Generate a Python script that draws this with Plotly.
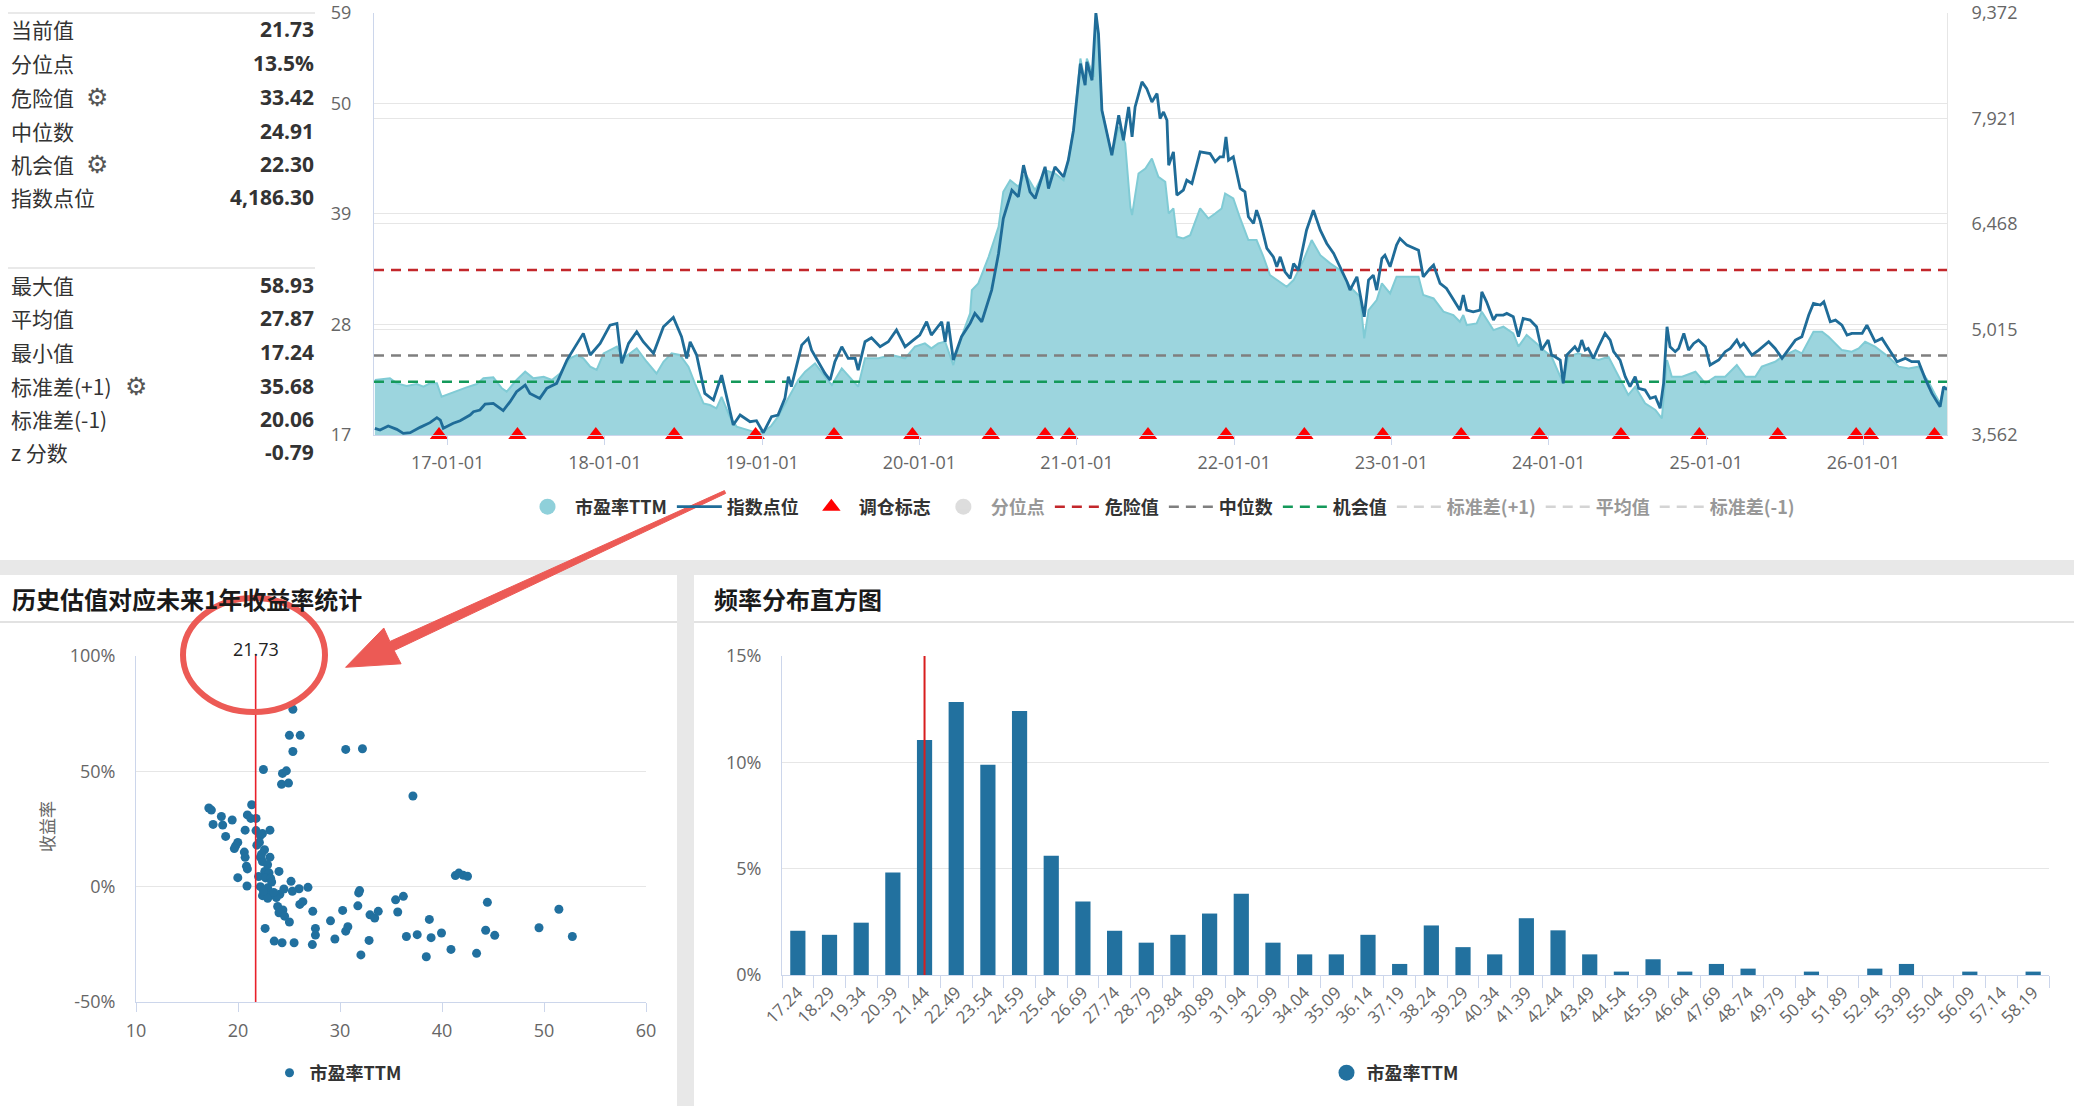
import plotly.graph_objects as go
import pandas as pd

W, H = 2074, 1106

# ---------------- stats panel ----------------
stat_labels_1 = ["当前值", "分位点", "危险值", "中位数", "机会值", "指数点位"]
stat_values_1 = ["21.73", "13.5%", "33.42", "24.91", "22.30", "4,186.30"]
stat_labels_2 = ["最大值", "平均值", "最小值", "标准差(+1)", "标准差(-1)", "z 分数"]
stat_values_2 = ["58.93", "27.87", "17.24", "35.68", "20.06", "-0.79"]

current_pe = 21.73
danger_val = 33.42
median_val = 24.91
chance_val = 22.30
std_plus_val = 35.68
mean_val = 27.87
std_minus_val = 20.06

# ---------------- time series (decimal years) ----------------
pe_t = [2016.540, 2016.636, 2016.678, 2016.742, 2016.805, 2016.848, 2016.890, 2016.932, 2016.964, 2017.017,
        2017.060, 2017.123, 2017.187, 2017.229, 2017.293, 2017.346, 2017.377, 2017.441, 2017.494, 2017.547,
        2017.611, 2017.664, 2017.716, 2017.780, 2017.822, 2017.865, 2017.907, 2017.950, 2017.992, 2018.034,
        2018.077, 2018.119, 2018.161, 2018.204, 2018.267, 2018.331, 2018.373, 2018.426, 2018.479, 2018.532,
        2018.575, 2018.628, 2018.670, 2018.712, 2018.744, 2018.797, 2018.840, 2018.903, 2018.967, 2019.009,
        2019.060, 2019.104, 2019.168, 2019.232, 2019.274, 2019.338, 2019.401, 2019.444, 2019.507, 2019.571,
        2019.613, 2019.655, 2019.740, 2019.825, 2019.910, 2019.973, 2020.037, 2020.079, 2020.122, 2020.164,
        2020.217, 2020.270, 2020.323, 2020.334, 2020.376, 2020.440, 2020.503, 2020.535, 2020.577, 2020.630,
        2020.673, 2020.736, 2020.800, 2020.863, 2020.916, 2020.948, 2020.980, 2021.022, 2021.054, 2021.065,
        2021.107, 2021.122, 2021.139, 2021.160, 2021.224, 2021.266, 2021.309, 2021.340, 2021.351, 2021.393,
        2021.436, 2021.478, 2021.520, 2021.563, 2021.584, 2021.616, 2021.637, 2021.679, 2021.722, 2021.785,
        2021.838, 2021.880, 2021.923, 2021.944, 2021.997, 2022.039, 2022.092, 2022.145, 2022.188, 2022.230,
        2022.294, 2022.336, 2022.379, 2022.442, 2022.495, 2022.548, 2022.612, 2022.675, 2022.739, 2022.802,
        2022.828, 2022.855, 2022.908, 2022.940, 2022.993, 2023.035, 2023.099, 2023.173, 2023.205, 2023.269,
        2023.332, 2023.396, 2023.438, 2023.460, 2023.481, 2023.544, 2023.576, 2023.629, 2023.650, 2023.714,
        2023.777, 2023.809, 2023.862, 2023.925, 2023.968, 2024.021, 2024.095, 2024.127, 2024.190, 2024.254,
        2024.318, 2024.381, 2024.455, 2024.508, 2024.551, 2024.614, 2024.678, 2024.720, 2024.752, 2024.784,
        2024.847, 2024.932, 2024.996, 2025.059, 2025.123, 2025.197, 2025.250, 2025.313, 2025.356, 2025.441,
        2025.483, 2025.568, 2025.610, 2025.653, 2025.684, 2025.737, 2025.780, 2025.864, 2025.928, 2025.970,
        2026.013, 2026.076, 2026.161, 2026.225, 2026.288, 2026.352, 2026.415, 2026.458, 2026.490, 2026.511,
        2026.532]
pe_v = [22.47, 22.64, 22.14, 21.87, 22.07, 21.81, 22.14, 22.14, 20.81, 21.14,
        21.31, 21.74, 22.07, 22.64, 22.74, 21.64, 21.31, 22.47, 23.30, 22.64,
        22.80, 22.47, 23.13, 24.63, 24.96, 24.63, 23.80, 23.47, 25.12, 25.45,
        25.79, 24.63, 25.12, 25.62, 24.29, 23.13, 24.29, 25.12, 24.96, 23.80,
        22.14, 20.15, 19.98, 19.65, 20.80, 18.82, 17.83, 17.50, 17.24, 17.33,
        17.90, 18.82, 20.65, 22.47, 23.30, 24.13, 22.80, 21.97, 23.63, 22.47,
        21.81, 24.63, 24.63, 24.96, 24.63, 25.79, 26.12, 25.62, 26.12, 26.28,
        23.96, 26.78, 29.10, 31.42, 32.09, 34.74, 37.72, 41.20, 42.36, 41.70,
        43.03, 41.37, 43.36, 43.03, 42.36, 44.35, 47.34, 54.47, 52.15, 54.47,
        52.64, 58.93, 56.62, 49.33, 44.85, 47.67, 46.01, 39.71, 38.88, 43.03,
        43.53, 44.52, 42.70, 42.20, 39.05, 39.55, 36.73, 36.56, 36.89, 39.55,
        38.55, 39.05, 39.55, 41.04, 40.54, 38.55, 36.40, 36.40, 34.74, 32.92,
        32.25, 31.75, 32.42, 34.41, 36.40, 34.90, 34.08, 33.41, 31.75, 30.76,
        26.62, 29.43, 30.43, 32.09, 31.09, 32.75, 32.75, 32.75, 30.93, 30.59,
        29.27, 28.94, 28.27, 28.94, 27.94, 28.11, 29.27, 27.94, 27.44, 27.78,
        27.11, 25.79, 26.95, 26.12, 25.45, 24.79, 22.14, 24.79, 25.12, 24.79,
        24.46, 24.79, 22.47, 20.98, 21.81, 20.15, 19.49, 18.66, 24.46, 22.80,
        22.80, 23.30, 22.14, 22.80, 22.80, 23.96, 22.80, 22.80, 23.80, 24.29,
        24.79, 25.45, 25.12, 26.45, 27.28, 27.28, 26.78, 25.45, 25.29, 25.62,
        26.28, 25.79, 24.79, 23.80, 23.63, 23.80, 22.31, 20.98, 20.15, 21.64,
        21.73]

idx_t = [2016.540, 2016.572, 2016.625, 2016.678, 2016.721, 2016.763, 2016.826, 2016.890, 2016.932, 2016.954,
         2016.975, 2017.038, 2017.081, 2017.144, 2017.165, 2017.208, 2017.240, 2017.293, 2017.356, 2017.399,
         2017.441, 2017.494, 2017.526, 2017.589, 2017.632, 2017.695, 2017.759, 2017.822, 2017.865, 2017.907,
         2017.971, 2018.034, 2018.077, 2018.109, 2018.151, 2018.204, 2018.246, 2018.310, 2018.373, 2018.437,
         2018.490, 2018.522, 2018.543, 2018.585, 2018.617, 2018.638, 2018.691, 2018.744, 2018.818, 2018.861,
         2018.924, 2018.967, 2019.009, 2019.062, 2019.104, 2019.147, 2019.168, 2019.189, 2019.253, 2019.295,
         2019.316, 2019.359, 2019.401, 2019.433, 2019.465, 2019.507, 2019.549, 2019.592, 2019.613, 2019.655,
         2019.698, 2019.751, 2019.804, 2019.857, 2019.910, 2019.963, 2020.005, 2020.047, 2020.079, 2020.143,
         2020.164, 2020.185, 2020.217, 2020.270, 2020.323, 2020.355, 2020.397, 2020.461, 2020.503, 2020.535,
         2020.588, 2020.630, 2020.662, 2020.704, 2020.736, 2020.800, 2020.821, 2020.863, 2020.916, 2020.948,
         2020.980, 2021.022, 2021.054, 2021.065, 2021.096, 2021.122, 2021.139, 2021.160, 2021.224, 2021.266,
         2021.298, 2021.329, 2021.351, 2021.372, 2021.414, 2021.446, 2021.478, 2021.510, 2021.531, 2021.552,
         2021.573, 2021.584, 2021.616, 2021.637, 2021.679, 2021.700, 2021.732, 2021.785, 2021.849, 2021.880,
         2021.912, 2021.933, 2021.948, 2021.965, 2021.997, 2022.039, 2022.071, 2022.092, 2022.124, 2022.145,
         2022.167, 2022.209, 2022.251, 2022.272, 2022.294, 2022.325, 2022.357, 2022.379, 2022.410, 2022.463,
         2022.506, 2022.548, 2022.590, 2022.633, 2022.675, 2022.718, 2022.739, 2022.781, 2022.828, 2022.855,
         2022.887, 2022.908, 2022.940, 2022.961, 2022.993, 2023.035, 2023.057, 2023.099, 2023.173, 2023.205,
         2023.247, 2023.269, 2023.311, 2023.353, 2023.385, 2023.438, 2023.460, 2023.481, 2023.523, 2023.565,
         2023.576, 2023.608, 2023.650, 2023.671, 2023.714, 2023.735, 2023.777, 2023.809, 2023.841, 2023.883,
         2023.925, 2023.957, 2023.999, 2024.021, 2024.042, 2024.074, 2024.095, 2024.116, 2024.169, 2024.190,
         2024.212, 2024.233, 2024.254, 2024.286, 2024.318, 2024.360, 2024.392, 2024.413, 2024.455, 2024.487,
         2024.519, 2024.551, 2024.572, 2024.614, 2024.646, 2024.678, 2024.710, 2024.731, 2024.752, 2024.773,
         2024.805, 2024.826, 2024.858, 2024.890, 2024.921, 2024.953, 2024.996, 2025.027, 2025.080, 2025.123,
         2025.155, 2025.197, 2025.218, 2025.239, 2025.292, 2025.335, 2025.398, 2025.441, 2025.483, 2025.525,
         2025.568, 2025.610, 2025.653, 2025.684, 2025.727, 2025.748, 2025.790, 2025.822, 2025.864, 2025.896,
         2025.928, 2025.992, 2026.023, 2026.076, 2026.119, 2026.161, 2026.214, 2026.267, 2026.309, 2026.352,
         2026.394, 2026.437, 2026.490, 2026.511, 2026.532]
idx_v = [3654, 3631, 3686, 3640, 3585, 3594, 3667, 3732, 3800, 3768,
         3654, 3723, 3759, 3837, 3883, 3906, 3988, 3998, 3897, 4021,
         4158, 4250, 4135, 4066, 4204, 4273, 4594, 4823, 4961, 4663,
         4823, 5075, 5098, 4548, 4823, 4984, 4846, 4686, 5052, 5181,
         4915, 4617, 4846, 4663, 4342, 4135, 4044, 4387, 3700, 3837,
         3745, 3759, 3594, 3814, 3837, 4066, 4365, 4227, 4800, 4892,
         4731, 4571, 4410, 4319, 4571, 4777, 4617, 4617, 4456, 4846,
         4901, 4777, 4846, 5007, 4777, 4869, 4938, 5121, 4938, 5121,
         4846, 5121, 4594, 4915, 5098, 5236, 5121, 5557, 6061, 6543,
         6933, 6841, 7277, 6910, 6818, 7254, 6956, 7254, 7116, 7345,
         7758, 8675, 8377, 8698, 8446, 9372, 9088, 8033, 7414, 7965,
         7621, 8079, 7667, 8079, 8423, 8331, 8148, 8263, 7919, 8010,
         7896, 7277, 7460, 6864, 6933, 7070, 7024, 7460, 7437, 7323,
         7391, 7391, 7667, 7345, 7391, 6956, 6910, 6566, 6474, 6658,
         6520, 6130, 6015, 5878, 6015, 5809, 5717, 5924, 5832, 6382,
         6658, 6382, 6199, 6061, 5878, 5672, 5557, 5740, 5190, 5694,
         5763, 5557, 5993, 6038, 5878, 6176, 6268, 6176, 6107, 5740,
         5855, 5901, 5649, 5580, 5465, 5282, 5488, 5282, 5259, 5282,
         5534, 5396, 5144, 5213, 5213, 5236, 5190, 4915, 5167, 5144,
         5052, 4731, 4869, 4663, 4640, 4594, 4273, 4663, 4777, 4709,
         4869, 4731, 4754, 4617, 4777, 4961, 4869, 4709, 4594, 4365,
         4227, 4365, 4204, 4181, 4066, 4089, 3929, 4273, 5052, 4777,
         4709, 4754, 4961, 4731, 4823, 4869, 4777, 4525, 4594, 4709,
         4754, 4869, 4777, 4823, 4663, 4731, 4846, 4754, 4617, 4731,
         4869, 4915, 5213, 5374, 5351, 5396, 5121, 5144, 5075, 4938,
         4961, 4961, 5075, 4846, 4892, 4754, 4571, 4617, 4571, 4571,
         4342, 4135, 3952, 4227, 4186.30]

rebalance_dates = ["2016-12-12", "2017-06-12", "2017-12-11", "2018-06-11", "2018-12-17", "2019-06-17",
                   "2019-12-16", "2020-06-15", "2020-10-19", "2020-12-14", "2021-06-15", "2021-12-13",
                   "2022-06-13", "2022-12-12", "2023-06-12", "2023-12-11", "2024-06-17", "2024-12-16",
                   "2025-06-16", "2025-12-15", "2026-01-16", "2026-06-15"]

pe_axis_ticks = [17, 28, 39, 50, 59]
idx_axis_ticks = [3562, 5015, 6468, 7921, 9372]
x_range = ["2016-07-14", "2026-07-14"]

# ---------------- scatter: PE vs next-1y return ----------------
scatter_pe = [25.38, 25.04, 26.10, 25.38, 30.56, 32.20, 22.49, 24.36, 24.74, 24.27,
              24.95, 37.15, 17.14, 17.39, 21.34, 18.37, 19.43, 20.92, 21.26, 21.77,
              17.56, 18.50, 20.70, 21.77, 23.13, 18.79, 22.19, 22.40, 19.98, 19.77,
              19.64, 20.62, 21.85, 22.10, 20.70, 22.19, 23.13, 22.40, 20.83, 20.92,
              24.02, 22.62, 23.04, 19.98, 22.02, 22.70, 23.20, 25.20, 20.88, 22.19,
              22.91, 25.99, 26.86, 25.33, 22.40, 23.13, 22.91, 24.10, 23.76, 26.06,
              26.36, 23.89, 24.40, 24.02, 24.57, 27.33, 25.04, 22.66, 23.55, 24.32,
              25.50, 27.29, 27.59, 27.59, 29.07, 29.50, 30.26, 30.56, 30.77, 31.83,
              31.92, 31.75, 32.05, 32.85, 32.94, 33.40, 33.75, 35.45, 36.21, 35.66,
              36.51, 37.57, 38.46, 38.76, 38.93, 39.95, 40.88, 41.31, 41.65, 42.07,
              42.50, 43.39, 44.28, 44.45, 45.17, 49.51, 51.46, 52.78, 22.60, 22.30,
              22.90, 23.30, 22.50, 23.50, 24.50]
scatter_ret = [76.9, 65.6, 65.6, 58.6, 59.5, 59.8, 50.8, 49.1, 50.2, 44.4,
               44.9, 39.3, 34.1, 33.2, 35.5, 30.4, 28.9, 31.1, 29.6, 29.6,
               27.0, 26.7, 24.5, 24.3, 24.5, 21.8, 22.2, 23.0, 19.2, 17.7,
               16.5, 15.0, 18.0, 19.2, 12.7, 12.8, 12.8, 10.9, 8.9, 7.7,
               6.6, 6.6, 6.0, 3.9, 4.4, 3.8, 3.6, 2.3, 0.3, 0.0,
               -0.5, -0.9, -0.3, -2.0, -3.9, -3.8, -5.0, -3.3, -4.7, -7.7,
               -6.5, -8.6, -10.1, -11.3, -12.8, -10.7, -15.3, -18.1, -23.6, -24.3,
               -24.3, -25.1, -18.1, -21.0, -14.8, -22.7, -10.3, -19.3, -17.4, -2.7,
               -1.7, -8.3, -29.6, -23.3, -12.2, -13.6, -10.7, -5.7, -4.2, -11.0,
               -21.6, -20.8, -30.4, -14.2, -22.1, -20.1, -27.2, 4.8, 5.9, 5.0,
               4.5, -28.9, -18.9, -6.8, -21.1, -17.8, -9.8, -21.6, 16.0, 14.0,
               9.5, 2.0, -2.0, -2.5, -1.0]
ret_axis_ticks = [-50, 0, 50, 100]

# ---------------- histogram ----------------
bin_labels = ["17.24", "18.29", "19.34", "20.39", "21.44", "22.49", "23.54", "24.59", "25.64", "26.69",
              "27.74", "28.79", "29.84", "30.89", "31.94", "32.99", "34.04", "35.09", "36.14", "37.19",
              "38.24", "39.29", "40.34", "41.39", "42.44", "43.49", "44.54", "45.59", "46.64", "47.69",
              "48.74", "49.79", "50.84", "51.89", "52.94", "53.99", "55.04", "56.09", "57.14", "58.19"]
bin_freq = [2.08, 1.89, 2.46, 4.82, 11.05, 12.84, 9.89, 12.41, 5.61, 3.46,
            2.08, 1.52, 1.89, 2.89, 3.82, 1.52, 0.97, 0.97, 1.89, 0.52,
            2.33, 1.31, 0.97, 2.67, 2.10, 0.97, 0.16, 0.74, 0.16, 0.52,
            0.30, 0.0, 0.16, 0.0, 0.30, 0.52, 0.0, 0.16, 0.0, 0.16]
bin_width = 1.05
freq_axis_ticks = [0, 5, 10, 15]

assert len(pe_t) == len(pe_v)
assert len(idx_t) == len(idx_v)
assert len(scatter_pe) == len(scatter_ret)
assert len(bin_labels) == len(bin_freq)


def yr2dt(arr):
    out = []
    for t in arr:
        y = int(t)
        s = pd.Timestamp(year=y, month=1, day=1)
        e = pd.Timestamp(year=y + 1, month=1, day=1)
        out.append((s + (e - s) * (t - y)).normalize())
    return out


def px(x):
    return x / W


def py(y):
    return 1 - y / H


CJK = "Noto Sans CJK SC"
FONT = "Open Sans, Noto Sans CJK SC, sans-serif"
C_AREA_FILL = "#9cd5de"
C_AREA_LINE = "#80cbd5"
C_IDX = "#1f6c98"
C_DOT = "#21709f"
AX_LINE = "#ccd6eb"
GRID = "#e6e6e6"
TICKF = dict(size=18, color="#666666")

fig = go.Figure()

# ---- top chart ----
pe_dates = yr2dt(pe_t)
idx_dates = yr2dt(idx_t)

fig.add_trace(go.Scatter(x=pe_dates, y=pe_v, mode="lines", line=dict(color=C_AREA_LINE, width=2),
                         fill="tozeroy", fillcolor=C_AREA_FILL, showlegend=False, legendgroup="pe",
                         xaxis="x", yaxis="y", hoverinfo="skip", name="市盈率TTM"))
fig.add_trace(go.Scatter(x=[None], y=[None], mode="markers", name="市盈率TTM", legendgroup="pe",
                         marker=dict(symbol="circle", size=16, color="#8fd0da"),
                         xaxis="x", yaxis="y", legendrank=1))
fig.add_trace(go.Scatter(x=[None], y=[None], mode="markers", name="分位点",
                         marker=dict(symbol="circle", size=16, color="#bbbbbb"),
                         xaxis="x", yaxis="y", legendrank=4, visible="legendonly"))

ref_lines = [
    ("危险值", danger_val, "#c3272b", True, 5),
    ("中位数", median_val, "#7f7f7f", True, 6),
    ("机会值", chance_val, "#14995a", True, 7),
    ("标准差(+1)", std_plus_val, "#aaaaaa", False, 8),
    ("平均值", mean_val, "#aaaaaa", False, 9),
    ("标准差(-1)", std_minus_val, "#aaaaaa", False, 10),
]
for name, val, col, vis, rank in ref_lines:
    fig.add_trace(go.Scatter(x=x_range, y=[val, val], mode="lines", name=name,
                             line=dict(color=col, width=2.5, dash="10px,7px"),
                             xaxis="x", yaxis="y", legendrank=rank,
                             visible=True if vis else "legendonly", hoverinfo="skip"))

fig.add_trace(go.Scatter(x=idx_dates, y=idx_v, mode="lines", name="指数点位",
                         line=dict(color=C_IDX, width=2.8), xaxis="x", yaxis="y2", legendrank=2,
                         hoverinfo="skip"))
fig.add_trace(go.Scatter(x=pd.to_datetime(rebalance_dates), y=[idx_axis_ticks[0]] * len(rebalance_dates),
                         mode="markers", name="调仓标志",
                         marker=dict(symbol="triangle-up", size=16, color="#ff0000"),
                         cliponaxis=False, xaxis="x", yaxis="y2", legendrank=3, hoverinfo="skip"))

# ---- scatter ----
fig.add_trace(go.Scatter(x=scatter_pe, y=scatter_ret, mode="markers", name="市盈率TTM",
                         marker=dict(size=9, color=C_DOT), xaxis="x2", yaxis="y3",
                         legend="legend2", hoverinfo="skip"))

# ---- histogram ----
fig.add_trace(go.Bar(x=bin_labels, y=bin_freq, marker=dict(color="#22719f", line=dict(width=0)),
                     width=0.48, xaxis="x3", yaxis="y4", showlegend=False, hoverinfo="skip",
                     name="市盈率TTM", legendgroup="hist"))
fig.add_trace(go.Scatter(x=[None], y=[None], mode="markers", name="市盈率TTM", legendgroup="hist",
                         marker=dict(symbol="circle", size=16, color="#22719f"),
                         xaxis="x3", yaxis="y4", legend="legend3"))

cur_bin = int((current_pe - float(bin_labels[0])) // bin_width)

# ---------------- layout ----------------
shapes = []
annotations = []

shapes.append(dict(type="rect", xref="paper", yref="paper", x0=0, x1=1, y0=py(575), y1=py(560),
                   fillcolor="#e8e8e8", line=dict(width=0), layer="below"))
shapes.append(dict(type="rect", xref="paper", yref="paper", x0=px(677), x1=px(694), y0=0, y1=py(575),
                   fillcolor="#e8e8e8", line=dict(width=0), layer="below"))
shapes.append(dict(type="line", xref="paper", yref="paper", x0=0, x1=px(677), y0=py(622), y1=py(622),
                   line=dict(color="#d9d9d9", width=1.5), layer="below"))
shapes.append(dict(type="line", xref="paper", yref="paper", x0=px(694), x1=1, y0=py(622), y1=py(622),
                   line=dict(color="#d9d9d9", width=1.5), layer="below"))
for yy in (13, 268):
    shapes.append(dict(type="line", xref="paper", yref="paper", x0=px(8), x1=px(315), y0=py(yy), y1=py(yy),
                       line=dict(color="#e2e2e2", width=1.5), layer="below"))

shapes.append(dict(type="line", xref="x2", yref="y3", x0=current_pe, x1=current_pe, y0=-50, y1=100,
                   line=dict(color="#e8202a", width=1.6)))
shapes.append(dict(type="line", xref="x3", yref="y4", x0=cur_bin, x1=cur_bin, y0=0, y1=15,
                   line=dict(color="#d81e1e", width=2)))

RED = "#ec5a55"
shapes.append(dict(type="circle", xref="paper", yref="paper", x0=px(183), x1=px(325), y0=py(712), y1=py(598),
                   line=dict(color=RED, width=6), layer="above"))
arrow_pts = [(725.6, 493.4), (394.1, 650.5), (401.1, 663.8), (345.6, 667.3), (383.8, 628.0),
             (389.9, 641.5), (724.4, 490.6)]
path = "M " + " L ".join(f"{px(a):.5f},{py(b):.5f}" for a, b in arrow_pts) + " Z"
shapes.append(dict(type="path", xref="paper", yref="paper", path=path, fillcolor=RED,
                   line=dict(color=RED, width=1), layer="above"))

rows1 = [29, 63, 97, 131, 164, 197]
rows2 = [285, 318, 352, 386, 419, 452]
for labels, values, rows in ((stat_labels_1, stat_values_1, rows1), (stat_labels_2, stat_values_2, rows2)):
    for lab, val, yy in zip(labels, values, rows):
        annotations.append(dict(x=px(9), y=py(yy), xref="paper", yref="paper", text=lab, showarrow=False,
                                xanchor="left", yanchor="middle",
                                font=dict(size=21, color="#333333", family=CJK)))
        annotations.append(dict(x=px(316), y=py(yy), xref="paper", yref="paper", text=f"<b>{val}</b>",
                                showarrow=False, xanchor="right", yanchor="middle",
                                font=dict(size=21, color="#333333", family="Open Sans")))
for gx, gy in ((97, 97), (97, 164), (136, 386)):
    annotations.append(dict(x=px(gx), y=py(gy), xref="paper", yref="paper", text="⚙", showarrow=False,
                            xanchor="center", yanchor="middle",
                            font=dict(size=25, color="#555555", family="DejaVu Sans")))

annotations.append(dict(x=px(10), y=py(598), xref="paper", yref="paper",
                        text="<b>历史估值对应未来1年收益率统计</b>", showarrow=False, xanchor="left",
                        yanchor="middle", font=dict(size=24, color="#1a1a1a", family=CJK)))
annotations.append(dict(x=px(712), y=py(598), xref="paper", yref="paper",
                        text="<b>频率分布直方图</b>", showarrow=False, xanchor="left",
                        yanchor="middle", font=dict(size=24, color="#1a1a1a", family=CJK)))
annotations.append(dict(x=px(46), y=py(827), xref="paper", yref="paper", text="收益率", textangle=-90,
                        showarrow=False, xanchor="center", yanchor="middle",
                        font=dict(size=17, color="#666666", family=CJK)))
annotations.append(dict(x=current_pe, y=100, xref="x2", yref="y3", text=f"{current_pe:.2f}", showarrow=False,
                        xanchor="center", yanchor="middle", yshift=7,
                        font=dict(size=18, color="#222222")))

legend_font = dict(size=18, color="#333333", family=CJK, weight="bold")

fig.update_layout(
    width=W, height=H, autosize=False,
    margin=dict(l=0, r=0, t=0, b=0, pad=0, autoexpand=False),
    paper_bgcolor="white", plot_bgcolor="rgba(0,0,0,0)",
    font=dict(family=FONT, color="#333333"),
    hovermode=False,
    shapes=shapes, annotations=annotations,
    legend=dict(orientation="h", x=px(1160), y=py(507), xanchor="center", yanchor="middle",
                font=legend_font, itemwidth=45, bgcolor="rgba(0,0,0,0)", traceorder="normal"),
    legend2=dict(orientation="h", x=px(338), y=py(1073), xanchor="center", yanchor="middle",
                 font=legend_font, bgcolor="rgba(0,0,0,0)"),
    legend3=dict(orientation="h", x=px(1395), y=py(1073), xanchor="center", yanchor="middle",
                 font=legend_font, bgcolor="rgba(0,0,0,0)"),
    xaxis=dict(domain=[px(374), px(1947)], anchor="y", type="date", range=x_range,
               tick0="2017-01-01", dtick="M12", tickformat="%y-%m-%d",
               ticks="outside", ticklen=9, tickcolor=AX_LINE, showline=True, linecolor=AX_LINE,
               showgrid=False, zeroline=False, tickfont=TICKF, ticklabelstandoff=2, automargin=False),
    yaxis=dict(domain=[py(435), py(13)], anchor="x", range=[17, 59], tickvals=pe_axis_ticks,
               showgrid=True, gridcolor=GRID, zeroline=False, showline=True, linecolor=AX_LINE,
               tickfont=TICKF, ticks="", ticklabelstandoff=18, automargin=False),
    yaxis2=dict(overlaying="y", side="right", anchor="x", range=[idx_axis_ticks[0], idx_axis_ticks[-1]],
                tickvals=idx_axis_ticks, ticktext=[f"{v:,}" for v in idx_axis_ticks], showgrid=True,
                gridcolor=GRID, zeroline=False, showline=True, linecolor=GRID, tickfont=TICKF, ticks="",
                ticklabelstandoff=20, automargin=False),
    xaxis2=dict(domain=[px(136), px(646)], anchor="y3", range=[10, 60], dtick=10, tick0=10,
                ticks="outside", ticklen=9, tickcolor=AX_LINE, showline=True, linecolor=AX_LINE,
                showgrid=False, zeroline=False, tickfont=TICKF, ticklabelstandoff=3, automargin=False),
    yaxis3=dict(domain=[py(1002), py(656)], anchor="x2", range=[-50, 100], tickvals=ret_axis_ticks,
                ticktext=[f"{v}%" for v in ret_axis_ticks], showgrid=True, gridcolor=GRID, zeroline=False,
                showline=True, linecolor=AX_LINE, tickfont=TICKF, ticks="", ticklabelstandoff=16,
                automargin=False),
    xaxis3=dict(domain=[px(782), px(2049)], anchor="y4", type="category", range=[-0.5, len(bin_labels) - 0.5],
                tickson="boundaries", ticks="outside", ticklen=12, tickcolor=AX_LINE, tickangle=-45,
                showline=True, linecolor=AX_LINE, showgrid=False, zeroline=False,
                tickfont=dict(size=17, color="#666666"), automargin=False),
    yaxis4=dict(domain=[py(975), py(656)], anchor="x3", range=[0, 15], tickvals=freq_axis_ticks,
                ticktext=[f"{v}%" for v in freq_axis_ticks], showgrid=True, gridcolor=GRID, zeroline=False,
                showline=True, linecolor=AX_LINE, tickfont=TICKF, ticks="", ticklabelstandoff=16,
                automargin=False),
)

fig.write_html("out.html",
               post_script="document.body.style.margin='0';document.body.style.overflow='hidden';")
